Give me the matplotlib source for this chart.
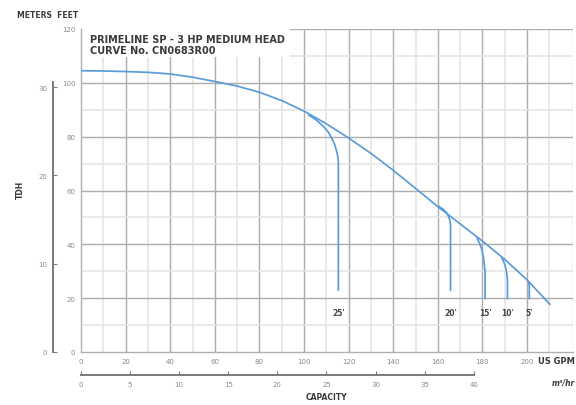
import matplotlib
matplotlib.use("Agg")
import matplotlib.pyplot as plt
from matplotlib.patches import Rectangle

# ---- data (US GPM vs feet) ----
main_gpm = [0, 10, 20, 30, 40, 50, 60, 70, 80, 90, 100, 110, 120, 130, 140, 150, 160, 170, 180, 190, 200, 210.5]
main_ft = [104.5, 104.4, 104.2, 103.9, 103.3, 102.1, 100.5, 98.8, 96.5, 93.4, 89.5, 84.8, 79.5, 73.8, 67.5, 60.8, 54.0, 47.6, 41.2, 34.4, 26.8, 17.5]

b25_gpm = [101.9, 105.5, 108.7, 110.8, 112.4, 113.8, 114.6, 115.2, 115.4, 115.4]
b25_ft = [88.1, 86.2, 83.8, 81.8, 79.5, 77.0, 74.6, 72.5, 70.5, 22.7]
b20_gpm = [160.2, 162.3, 164.0, 165.0, 165.5, 165.7, 165.7]
b20_ft = [54.2, 53.1, 51.7, 50.0, 48.5, 47.0, 22.7]
b15_gpm = [177.4, 178.7, 179.7, 180.4, 180.9, 181.2, 181.2]
b15_ft = [42.5, 40.4, 38.1, 35.2, 32.0, 29.5, 19.6]
b10_gpm = [188.6, 189.6, 190.4, 190.9, 191.2, 191.2]
b10_ft = [35.0, 33.4, 31.4, 29.2, 27.0, 19.6]
b5_gpm = [200.6, 200.9, 201.0, 201.0]
b5_ft = [26.4, 25.0, 23.9, 19.6]

branch_labels = ["25'", "20'", "15'", "10'", "5'"]
label_gpm = [115.4, 165.7, 181.2, 191.2, 201.0]

feet_ticks = [0, 20, 40, 60, 80, 100, 120]
gpm_ticks = [0, 20, 40, 60, 80, 100, 120, 140, 160, 180, 200]
meter_ticks = [0, 10, 20, 30]
m3h_ticks = [0, 5, 10, 15, 20, 25, 30, 35, 40]

title_lines = "PRIMELINE SP - 3 HP MEDIUM HEAD\nCURVE No. CN0683R00"

FT_PER_M = 3.28084
M3H_PER_GPM = 0.227125

W, H = 576, 406
fig = plt.figure(figsize=(W / 100, H / 100), dpi=100)
fig.patch.set_facecolor("white")

L, R, T, B = 81, 573, 30, 353
ax = fig.add_axes([L / W, 1 - B / H, (R - L) / W, (B - T) / H])
ax.set_xlim(0, 220.6)
ax.set_ylim(0, 120)

blue = "#5b9bd8"
txt_gray = "#8a8a8a"
dark = "#3a3a3a"

# grid
for g in range(10, 211, 10):
    major = (g % 20 == 0)
    ax.axvline(g, color="#adadad" if major else "#e3e3e3", lw=1.0 if major else 1.1, zorder=1)
ax.axvline(220.4, color="#d5d5d5", lw=1.0, zorder=1)
for f in range(10, 121, 10):
    major = (f % 20 == 0)
    ax.axhline(f, color="#adadad" if major else "#e3e3e3", lw=1.0 if major else 1.1, zorder=1)

for s in ["top", "right"]:
    ax.spines[s].set_visible(False)
for s in ["left", "bottom"]:
    ax.spines[s].set_color("#b0b0b0")
    ax.spines[s].set_linewidth(1.0)

ax.set_xticks(gpm_ticks)
ax.set_yticks(feet_ticks)
ax.tick_params(length=0, labelsize=5, colors=txt_gray, pad=4)

# title box
ax.add_patch(Rectangle((0, 109.6), 93.7, 10.4, facecolor="white", edgecolor="none", zorder=2))
ax.text(4, 118, title_lines, fontsize=7, fontweight="bold", color=dark,
        va="top", ha="left", linespacing=1.1, zorder=3)

# curves
ax.plot(main_gpm, main_ft, color=blue, lw=1.25, zorder=4, solid_capstyle="butt")
for xs, ys in [(b25_gpm, b25_ft), (b20_gpm, b20_ft), (b15_gpm, b15_ft),
               (b10_gpm, b10_ft), (b5_gpm, b5_ft)]:
    ax.plot(xs, ys, color=blue, lw=1.25, zorder=4, solid_capstyle="butt")

for lab, g in zip(branch_labels, label_gpm):
    ax.text(g, 14.8, lab, fontsize=5.5, fontweight="bold", color="#444444",
            ha="center", va="center", zorder=4)

# meters axis
axm = fig.add_axes([53 / W, 1 - B / H, 0.0001, (B - T) / H])
axm.set_ylim(0, 120 / FT_PER_M)
axm.set_xlim(0, 1)
for s in ["top", "right", "bottom"]:
    axm.spines[s].set_visible(False)
axm.spines["left"].set_color("#7a7a7a")
axm.spines["left"].set_linewidth(1.4)
axm.spines["left"].set_bounds(0, 30.6)
axm.set_xticks([])
axm.set_yticks(meter_ticks)
axm.tick_params(axis="y", direction="in", length=3, width=0.8, color="#7a7a7a",
                labelsize=5, labelcolor=txt_gray, pad=4)
axm.patch.set_visible(False)

# capacity m3/h axis
ay = 376
axc = fig.add_axes([L / W, 1 - ay / H, (R - L) / W, 0.0001])
axc.set_xlim(0, 220.6 * M3H_PER_GPM)
axc.set_ylim(0, 1)
for s in ["top", "right", "left"]:
    axc.spines[s].set_visible(False)
axc.spines["bottom"].set_color("#7a7a7a")
axc.spines["bottom"].set_linewidth(1.4)
axc.spines["bottom"].set_bounds(0, 40)
axc.set_yticks([])
axc.set_xticks(m3h_ticks)
axc.tick_params(axis="x", direction="in", length=3, width=0.8, color="#7a7a7a",
                labelsize=5, labelcolor=txt_gray, pad=4)
axc.patch.set_visible(False)

# labels
fig.text(17 / W, 1 - 16 / H, "METERS  FEET", fontsize=5.5, fontweight="bold", color=dark,
         ha="left", va="center")
fig.text(20 / W, 1 - 190 / H, "TDH", fontsize=5.5, fontweight="bold", color=dark,
         ha="center", va="center", rotation=90)
fig.text(326 / W, 1 - 398 / H, "CAPACITY", fontsize=5.5, fontweight="bold", color=dark,
         ha="center", va="center")
fig.text(538 / W, 1 - 362 / H, "US GPM", fontsize=6, fontweight="bold", color=dark,
         ha="left", va="center")
fig.text(552 / W, 1 - 383 / H, "m\u00b3/hr", fontsize=5.5, fontweight="bold", style="italic",
         color=dark, ha="left", va="center")

fig.savefig("out.png", dpi=100, facecolor="white")
